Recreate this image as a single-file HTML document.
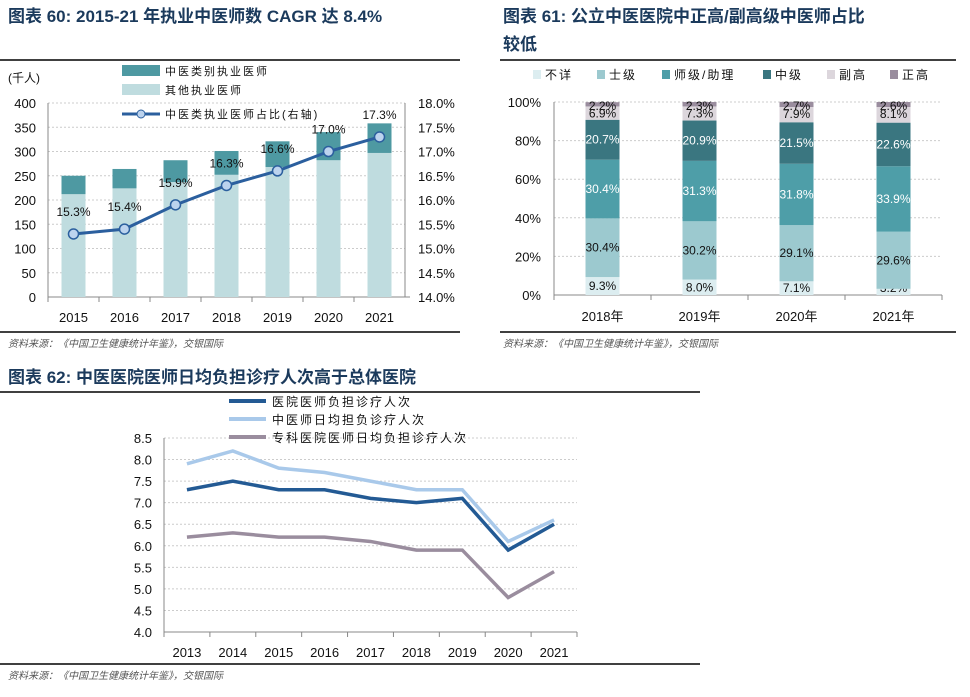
<!DOCTYPE html>
<html><head><meta charset="utf-8"><style>
body{margin:0;background:#fff;}
svg{display:block;font-family:"Liberation Sans","Noto Sans CJK SC",sans-serif;}
</style></head><body>
<svg id="s" width="970" height="697" viewBox="0 0 970 697">
<g>
<text x="8" y="22" font-size="17" font-weight="bold" fill="#1b3a5c">图表 60: 2015-21 年执业中医师数 CAGR 达 8.4%</text>
<line x1="0" y1="60" x2="460" y2="60" stroke="#000" stroke-width="1.5"/>
<line x1="0" y1="332" x2="460" y2="332" stroke="#000" stroke-width="1.5"/>
<text x="8" y="347" font-size="10" font-style="italic" fill="#555">资料来源：《中国卫生健康统计年鉴》，交银国际</text>
</g>
<g>
<text x="503" y="22" font-size="17" font-weight="bold" fill="#1b3a5c">图表 61: 公立中医医院中正高/副高级中医师占比</text>
<text x="503" y="50" font-size="17" font-weight="bold" fill="#1b3a5c">较低</text>
<line x1="500" y1="60" x2="956" y2="60" stroke="#000" stroke-width="1.5"/>
<line x1="500" y1="332" x2="956" y2="332" stroke="#000" stroke-width="1.5"/>
<text x="503" y="347" font-size="10" font-style="italic" fill="#555">资料来源：《中国卫生健康统计年鉴》，交银国际</text>
</g>
<g>
<text x="8" y="383" font-size="17" font-weight="bold" fill="#1b3a5c">图表 62: 中医医院医师日均负担诊疗人次高于总体医院</text>
<line x1="0" y1="392" x2="700" y2="392" stroke="#000" stroke-width="1.5"/>
<line x1="0" y1="664" x2="700" y2="664" stroke="#000" stroke-width="1.5"/>
<text x="8" y="679" font-size="10" font-style="italic" fill="#555">资料来源：《中国卫生健康统计年鉴》，交银国际</text>
</g>
<g id="c1"></g>
<g id="c2"></g>
<g id="c3"></g>
</svg>
<script>
const NS="http://www.w3.org/2000/svg";
function mk(p,t,a,txt){const e=document.createElementNS(NS,t);for(const k in a)e.setAttribute(k,a[k]);if(txt!==undefined)e.textContent=txt;p.appendChild(e);return e;}

// Chart 60 data
const years1=["2015","2016","2017","2018","2019","2020","2021"];
const totalDoctors=[250,264,282,301,321,340,358];
const otherDoctors=[212,224,237,252,268,282,297];
const tcmShare=[15.3,15.4,15.9,16.3,16.6,17.0,17.3];
const leftTicks1=[0,50,100,150,200,250,300,350,400];
const rightTicks1=[14,14.5,15,15.5,16,16.5,17,17.5,18];

// Chart 61 data
const years2=["2018年","2019年","2020年","2021年"];
const seriesNames2=["不详","士级","师级/助理","中级","副高","正高"];
const unknownPct=[9.3,8.0,7.1,3.2];
const juniorPct=[30.4,30.2,29.1,29.6];
const assistantPct=[30.4,31.3,31.8,33.9];
const midPct=[20.7,20.9,21.5,22.6];
const deputyPct=[6.9,7.3,7.9,8.1];
const seniorPct=[2.2,2.3,2.7,2.6];
const ticks2=[0,20,40,60,80,100];

// Chart 62 data
const years3=["2013","2014","2015","2016","2017","2018","2019","2020","2021"];
const hospitalLoad=[7.3,7.5,7.3,7.3,7.1,7.0,7.1,5.9,6.5];
const tcmLoad=[7.9,8.2,7.8,7.7,7.5,7.3,7.3,6.1,6.6];
const specialtyLoad=[6.2,6.3,6.2,6.2,6.1,5.9,5.9,4.8,5.4];
const ticks3=[4.0,4.5,5.0,5.5,6.0,6.5,7.0,7.5,8.0,8.5];

// ---------- Chart 60 ----------
(function(){
const g=document.getElementById('c1');
const x0=48,x1=405,yB=297,yT=103;
const y=v=>yB-(v/400)*(yB-yT);
const yr=v=>yB-((v-14)/4)*(yB-yT);
const bw=(x1-x0)/years1.length;
const xc=i=>x0+bw*(i+0.5);
leftTicks1.forEach(t=>{
 if(t>0){const l=mk(g,'line',{x1:x0,x2:x1,y1:y(t),y2:y(t),stroke:'#ccc','stroke-dasharray':'2,2'});}
 const tx=mk(g,'text',{x:36,y:y(t)+5,'font-size':13,'text-anchor':'end',fill:'#111'},String(t));
 
});
rightTicks1.forEach(t=>{
 const tx=mk(g,'text',{x:418,y:yr(t)+5,'font-size':13,fill:'#111'},t.toFixed(1)+'%');
 
});
mk(g,'line',{x1:x0,x2:x0,y1:yT,y2:yB,stroke:'#888'});
mk(g,'line',{x1:x1,x2:x1,y1:yT,y2:yB,stroke:'#888'});
mk(g,'line',{x1:x0,x2:x1,y1:yB,y2:yB,stroke:'#888'});
years1.forEach((yv,i)=>{
 mk(g,'line',{x1:x0+bw*i,x2:x0+bw*i,y1:yB,y2:yB+5,stroke:'#888'});
 const o=mk(g,'rect',{x:xc(i)-12,y:y(otherDoctors[i]),width:24,height:yB-y(otherDoctors[i]),fill:'#bfdcdf'});
 
 const t=mk(g,'rect',{x:xc(i)-12,y:y(totalDoctors[i]),width:24,height:y(otherDoctors[i])-y(totalDoctors[i]),fill:'#4e99a2'});
 
 const lb=mk(g,'text',{x:xc(i),y:322,'font-size':13,'text-anchor':'middle',fill:'#111'},yv);
 
});
mk(g,'line',{x1:x1,x2:x1+5,y1:yB,y2:yB,stroke:'#888'});
const pts=tcmShare.map((v,i)=>xc(i)+','+yr(v)).join(' ');
const pl=mk(g,'polyline',{points:pts,fill:'none',stroke:'#2b5f9e','stroke-width':3});

tcmShare.forEach((v,i)=>{
 const c=mk(g,'circle',{cx:xc(i),cy:yr(v),r:5,fill:'#bcd3ee',stroke:'#2b5f9e','stroke-width':1.5});
 
 const lb=mk(g,'text',{x:xc(i),y:yr(v)-18,'font-size':12,'text-anchor':'middle',fill:'#111'},v.toFixed(1)+'%');
 
});
mk(g,'text',{x:8,y:82,'font-size':12,fill:'#111'},'(千人)');
const lg=[['rect','#4e99a2','中医类别执业医师',75],['rect','#bfdcdf','其他执业医师',94]];
lg.forEach(l=>{const r=mk(g,'rect',{x:122,y:l[3]-10,width:38,height:11,fill:l[1]});
 const t=mk(g,'text',{x:165,y:l[3],'font-size':11,fill:'#111','letter-spacing':'2'},l[2]);});
mk(g,'line',{x1:122,x2:160,y1:114,y2:114,stroke:'#2b5f9e','stroke-width':3});
mk(g,'circle',{cx:141,cy:114,r:4,fill:'#bcd3ee',stroke:'#2b5f9e'});
const t3=mk(g,'text',{x:165,y:118,'font-size':11,fill:'#111','letter-spacing':'2'},'中医类执业医师占比(右轴)');

})();

// ---------- Chart 61 ----------
(function(){
const g=document.getElementById('c2');
const x0=554,x1=942,yB=295,yT=102;
const y=v=>yB-(v/100)*(yB-yT);
const bw=(x1-x0)/years2.length;
const xc=i=>x0+bw*(i+0.5);
const series=[unknownPct,juniorPct,assistantPct,midPct,deputyPct,seniorPct];
const colors=['#dcedf0','#9cc9cf','#4e9ea8','#3a7680','#dcd6dc','#9a8d9e'];
const lcol=['#111','#111','#fff','#fff','#111','#111'];
ticks2.forEach(t=>{
 if(t>0){const l=mk(g,'line',{x1:x0,x2:x1,y1:y(t),y2:y(t),stroke:'#ccc','stroke-dasharray':'2,2'});}
 const tx=mk(g,'text',{x:541,y:y(t)+5,'font-size':13,'text-anchor':'end',fill:'#111'},t+'%');
 
});
mk(g,'line',{x1:x0,x2:x0,y1:yT,y2:yB,stroke:'#888'});
mk(g,'line',{x1:x0,x2:x1,y1:yB,y2:yB,stroke:'#888'});
for(let i=0;i<=years2.length;i++)mk(g,'line',{x1:x0+bw*i,x2:x0+bw*i,y1:yB,y2:yB+5,stroke:'#888'});
years2.forEach((yv,i)=>{
 let acc=0;
 series.forEach((s,k)=>{
  const v=s[i];
  const r=mk(g,'rect',{x:xc(i)-17,y:y(acc+v),width:34,height:y(acc)-y(acc+v),fill:colors[k]});
  
  let ly=(y(acc)+y(acc+v))/2+4;
  if(k===0)ly=Math.min(ly,yB-3);
  if(k===4)ly=y(acc+v)+11;
  if(k===5)ly=y(acc+v)+8;
  const t=mk(g,'text',{x:xc(i),y:ly,'font-size':12,'text-anchor':'middle',fill:lcol[k]},v.toFixed(1)+'%');
  
  acc+=v;
 });
 const lb=mk(g,'text',{x:xc(i),y:321,'font-size':13,'text-anchor':'middle',fill:'#111'},yv);
 
});
const lx=[533,597,662,763,827,890];
seriesNames2.forEach((n,k)=>{
 const r=mk(g,'rect',{x:lx[k],y:70,width:8,height:9,fill:colors[k]});
 const t=mk(g,'text',{x:lx[k]+12,y:79,'font-size':12,fill:'#111','letter-spacing':'2'},n);
});
})();

// ---------- Chart 62 ----------
(function(){
const g=document.getElementById('c3');
const x0=164,x1=577,yB=632,yT=438;
const y=v=>yB-((v-4)/4.5)*(yB-yT);
const bw=(x1-x0)/years3.length;
const xc=i=>x0+bw*(i+0.5);
ticks3.forEach(t=>{
 if(t>4){const l=mk(g,'line',{x1:x0,x2:x1,y1:y(t),y2:y(t),stroke:'#ccc','stroke-dasharray':'2,2'});}
 const tx=mk(g,'text',{x:152,y:y(t)+5,'font-size':13,'text-anchor':'end',fill:'#111'},t.toFixed(1));
 
});
mk(g,'line',{x1:x0,x2:x0,y1:yT,y2:yB,stroke:'#888'});
mk(g,'line',{x1:x0,x2:x1,y1:yB,y2:yB,stroke:'#888'});
for(let i=0;i<=years3.length;i++)mk(g,'line',{x1:x0+bw*i,x2:x0+bw*i,y1:yB,y2:yB+5,stroke:'#888'});
years3.forEach((yv,i)=>{const lb=mk(g,'text',{x:xc(i),y:657,'font-size':13,'text-anchor':'middle',fill:'#111'},yv);});
const S=[[specialtyLoad,'#9a8d9e','专科医院医师日均负担诊疗人次','line-specialty'],[tcmLoad,'#a9c9ea','中医师日均担负诊疗人次','line-tcm'],[hospitalLoad,'#235a94','医院医师负担诊疗人次','line-hospital']];
S.forEach(s=>{
 const pl=mk(g,'polyline',{points:s[0].map((v,i)=>xc(i)+','+y(v)).join(' '),fill:'none',stroke:s[1],'stroke-width':3.5});
 
});
const ly=[401,419,437];
[S[2],S[1],S[0]].forEach((s,k)=>{
 const l=mk(g,'line',{x1:229,x2:266,y1:ly[k],y2:ly[k],stroke:s[1],'stroke-width':4});
 const t=mk(g,'text',{x:272,y:ly[k]+5,'font-size':12,fill:'#111','letter-spacing':'2'},s[2]);
});
})();
</script>
</body></html>
